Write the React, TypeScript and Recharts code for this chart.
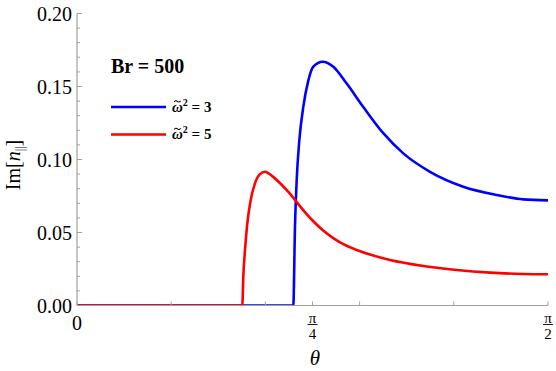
import React from "react";
import { LineChart, Line, XAxis, YAxis, Label } from "recharts";

const PI = Math.PI;

// θ (radians) and Im[n||] values for ω̃² = 3 (blue)
const thetaBlue = [0, 0.7214, 0.727, 0.7327, 0.7414, 0.7547, 0.7714, 0.7881, 0.8194, 0.8548, 0.8995, 0.9548, 1.0215, 1.0882, 1.1773, 1.2883, 1.3997, 1.4884, 1.5708];
const valuesBlue = [0, 0, 0.054, 0.086, 0.113, 0.136, 0.154, 0.1636, 0.167, 0.1636, 0.152, 0.136, 0.118, 0.1042, 0.0916, 0.0814, 0.0757, 0.0727, 0.072];

// θ (radians) and Im[n||] values for ω̃² = 5 (red)
const thetaRed = [0, 0.5513, 0.5546, 0.5603, 0.568, 0.5793, 0.5936, 0.6103, 0.627, 0.65, 0.68, 0.71, 0.7327, 0.76, 0.7881, 0.82, 0.8548, 0.89, 0.9328, 0.98, 1.0439, 1.1549, 1.2663, 1.3774, 1.4884, 1.5708];
const valuesRed = [0, 0, 0.0197, 0.038, 0.0563, 0.0723, 0.0837, 0.09, 0.0916, 0.0888, 0.0832, 0.0766, 0.0708, 0.064, 0.0577, 0.0515, 0.0462, 0.0418, 0.038, 0.0347, 0.0312, 0.0271, 0.0243, 0.0225, 0.0216, 0.0214];

const xTicks = [0, 0.1 * PI, 0.2 * PI, 0.25 * PI, 0.3 * PI, 0.4 * PI, 0.5 * PI];
const xTickLabels: Record<string, [string, string] | string> = {
  "0": "0",
  "0.25": ["π", "4"],
  "0.5": ["π", "2"],
};
const yTicks = [0, 0.01, 0.02, 0.03, 0.04, 0.05, 0.06, 0.07, 0.08, 0.09, 0.1, 0.11, 0.12, 0.13, 0.14, 0.15, 0.16, 0.17, 0.18, 0.19, 0.2];

const seriesNames = ["3", "5"];
const seriesColors = ["#0000ff", "#ff0000"];
const title = "Br = 500";

const blueData = thetaBlue.map((t, i) => ({ t, v: valuesBlue[i] }));
const redData = thetaRed.map((t, i) => ({ t, v: valuesRed[i] }));

const FONT = "Liberation Serif";
const fs = (size: number, extra: React.CSSProperties = {}): React.CSSProperties => ({ fontFamily: FONT, fontSize: size, ...extra });
const FRAME = "#a0a0a0";

const XTick = (props: any) => {
  const { x, y, payload } = props;
  const frac = payload.value / PI;
  const key = String(Math.round(frac * 100) / 100);
  const lab = xTickLabels[key];
  return (
    <g>
      <line x1={x} x2={x} y1={y} y2={y - 4} stroke={FRAME} strokeWidth={1} />
      {typeof lab === "string" && (
        <text x={x} y={y + 24} textAnchor="middle" style={fs(20)} fill="#000">
          {lab}
        </text>
      )}
      {Array.isArray(lab) && (
        <g>
          <text x={x} y={y + 17} textAnchor="middle" style={fs(15)} fill="#000">
            {lab[0]}
          </text>
          <line x1={x - 5} x2={x + 5} y1={y + 19} y2={y + 19} stroke="#000" strokeWidth={0.9} />
          <text x={x} y={y + 33} textAnchor="middle" style={fs(15)} fill="#000">
            {lab[1]}
          </text>
        </g>
      )}
    </g>
  );
};

const YTick = (props: any) => {
  const { x, y, payload } = props;
  const v = payload.value;
  const major = Math.abs(v / 0.05 - Math.round(v / 0.05)) < 1e-6;
  return (
    <g>
      <line x1={x} x2={x + (major ? 5 : 3)} y1={y} y2={y} stroke={FRAME} strokeWidth={1} />
      {major && (
        <text x={x - 5} y={y + 7} textAnchor="end" style={fs(20)} fill="#000">
          {v.toFixed(2)}
        </text>
      )}
    </g>
  );
};

export default function App() {
  return (
    <div style={{ position: "absolute", left: 0, top: 0, width: 556, height: 371, background: "#fff" }}>
      <LineChart width={556} height={371} margin={{ top: 13.5, right: 8, left: 0, bottom: 0 }}>
        <XAxis
          dataKey="t"
          type="number"
          domain={[0, PI / 2]}
          ticks={xTicks}
          interval={0}
          allowDataOverflow
          height={65.5}
          tickSize={0}
          tickMargin={0}
          tickLine={false}
          axisLine={{ stroke: FRAME, strokeWidth: 1.2 }}
          tick={<XTick />}
        >
          <Label
            content={() => (
              <text x={315} y={365} textAnchor="middle" style={fs(21, { fontStyle: "italic" })} fill="#000">
                θ
              </text>
            )}
          />
        </XAxis>
        <XAxis xAxisId="top" orientation="top" type="number" domain={[0, 1]} height={0} tick={false} tickLine={false} axisLine={{ stroke: FRAME, strokeWidth: 1.2 }} />
        <YAxis
          type="number"
          domain={[0, 0.2]}
          ticks={yTicks}
          interval={0}
          allowDataOverflow
          width={77}
          tickSize={0}
          tickMargin={0}
          tickLine={false}
          axisLine={{ stroke: FRAME, strokeWidth: 1.2 }}
          tick={<YTick />}
        >
          <Label
            content={() => (
              <text transform="translate(20,165) rotate(-90)" textAnchor="middle" style={fs(20)} fill="#000">
                Im[<tspan fontStyle="italic">n</tspan>
                <tspan fontSize={12} dy={4}>||</tspan>
                <tspan dy={-4}>]</tspan>
              </text>
            )}
          />
        </YAxis>
        <YAxis yAxisId="right" orientation="right" type="number" domain={[0, 1]} width={0} tick={false} tickLine={false} axisLine={{ stroke: FRAME, strokeWidth: 1.2 }} />
        <Line data={blueData} dataKey="v" type="monotone" stroke={seriesColors[0]} strokeWidth={2.6} dot={false} isAnimationActive={false} />
        <Line data={redData} dataKey="v" type="monotone" stroke={seriesColors[1]} strokeWidth={2.6} dot={false} isAnimationActive={false} />
      </LineChart>
      <svg width={556} height={371} style={{ position: "absolute", left: 0, top: 0, pointerEvents: "none" }}>
        <text x={111} y={73} style={fs(20, { fontWeight: "bold" })} fill="#000">
          {title}
        </text>
        {seriesNames.map((n, i) => {
          const ly = 107 + i * 27.5;
          return (
            <g key={n}>
              <line x1={111} x2={166} y1={ly} y2={ly} stroke={seriesColors[i]} strokeWidth={2.6} />
              <path
                d={`M174.2,${ly - 5} q1.5,-2.2 3.2,-0.6 t3.2,-0.6`}
                fill="none"
                stroke="#000"
                strokeWidth={1.1}
              />
              <text x={172} y={ly + 4.5} style={fs(15, { fontWeight: "bold" })} fill="#000">
                <tspan fontStyle="italic">ω</tspan>
                <tspan fontSize={10} dy={-6}>2</tspan>
                <tspan dy={6}>{" = " + n}</tspan>
              </text>
            </g>
          );
        })}
      </svg>
    </div>
  );
}
